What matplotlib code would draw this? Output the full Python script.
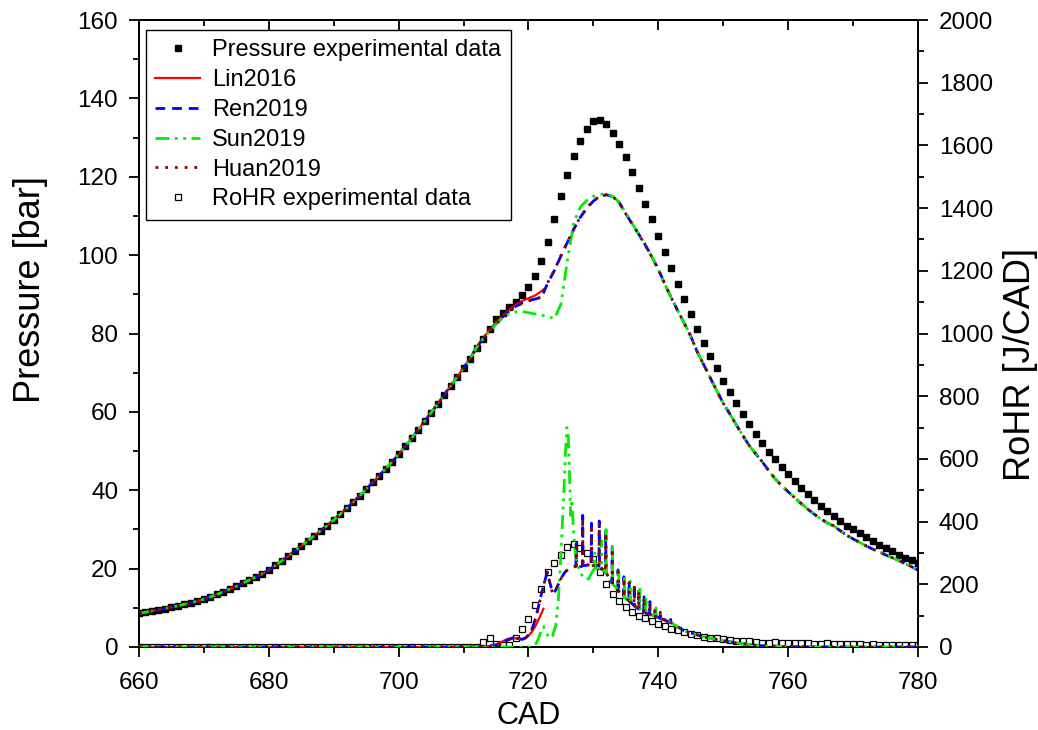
import numpy as np
import matplotlib.pyplot as plt
from matplotlib.ticker import MultipleLocator

plt.rcParams['font.family'] = ['Liberation Sans', 'DejaVu Sans']

# ---- pressure, experimental (1 CAD steps, 660..780) ----
cad_exp = np.arange(660, 781)
p_exp = [8.6, 8.9, 9.2, 9.5, 9.8, 10.2, 10.5, 10.9, 11.3, 11.7,
         12.2, 12.8, 13.4, 14.1, 14.8, 15.5, 16.3, 17.1, 17.9, 18.7,
         19.6, 20.8, 22.0, 23.2, 24.5, 25.8, 27.1, 28.4, 29.7, 31.0,
         32.4, 33.9, 35.4, 37.0, 38.6, 40.3, 42.0, 43.7, 45.5, 47.3,
         49.2, 51.2, 53.3, 55.4, 57.6, 59.8, 62.0, 64.3, 66.6, 68.9,
         71.2, 73.6, 76.3, 78.5, 81.2, 83.7, 85.3, 86.7, 88.0, 89.7,
         91.8, 94.7, 98.4, 103.3, 109.2, 115.1, 120.4, 125.2, 129.2, 132.3,
         134.3, 134.5, 133.4, 131.2, 128.3, 125.0, 121.3, 117.2, 113.1, 109.1,
         104.9, 100.7, 96.6, 92.7, 88.7, 84.9, 81.2, 77.7, 74.3, 71.1,
         68.0, 65.0, 62.2, 59.5, 56.9, 54.4, 52.1, 49.8, 47.9, 45.9,
         44.1, 42.3, 40.6, 39.0, 37.5, 36.0, 34.7, 33.4, 32.2, 31.0,
         30.0, 29.0, 28.0, 27.0, 26.1, 25.3, 24.4, 23.6, 22.7, 22.2,
         21.5]

# ---- RoHR, experimental (1 CAD steps, 660..780) ----
rohr_exp = [0] * 53 + [
    15, 28, 8, 5, 7, 30, 58, 88, 133, 185,
    240, 268, 295, 320, 330, 315, 300, 281, 238, 200,
    168, 146, 129, 112, 99, 91, 83, 73, 66, 59,
    53, 47, 41, 38, 33, 28, 28, 27, 22, 20,
    20, 19, 16, 14, 14, 17, 13, 12, 12, 12,
    14, 10, 9, 12, 9, 8, 10, 8, 8, 6,
    8, 6, 7, 6, 7, 5, 6, 5]

# ---- pressure, models ----
p_early = p_exp[:52]

cad_lin = np.arange(660, 723).tolist() + [722.5]
p_lin = p_early + [76.6, 78.8, 80.9, 82.8, 84.5, 86.0, 87.3, 88.3, 89.0, 89.7,
                   90.8, 91.5]

cad_mod = np.arange(660, 781)
p_ren = p_early + [
    76.4, 78.6, 80.6, 82.5, 84.2, 85.6, 86.9, 87.8, 88.4, 88.8,
    89.2, 93.0, 96.1, 99.8, 103.3, 106.7, 109.7, 112.0, 113.8, 115.0,
    115.4, 114.9, 113.4, 110.5, 107.9, 105.3, 102.6, 99.6, 96.4, 92.6,
    89.1, 85.8, 82.6, 79.3, 75.3, 72.0, 68.7, 65.4, 62.2, 59.5,
    56.7, 54.0, 51.4, 49.3, 47.3, 45.0, 42.9, 41.2, 39.6, 38.1,
    36.6, 35.2, 33.9, 32.7, 31.7, 30.9, 29.7, 28.5, 27.6, 26.7,
    25.8, 25.0, 24.3, 23.5, 22.8, 22.1, 21.3, 20.5, 19.6]
p_huan = p_early + [
    76.4, 78.6, 80.6, 82.5, 84.2, 85.6, 86.8, 87.7, 88.3, 88.8,
    89.3, 93.1, 96.2, 99.9, 103.4, 106.8, 109.8, 112.1, 113.9, 115.0,
    115.4, 114.9, 113.3, 110.5, 107.9, 105.2, 102.5, 99.5, 96.3, 92.6,
    89.1, 85.8, 82.6, 79.3, 75.3, 72.0, 68.7, 65.4, 62.2, 59.5,
    56.7, 54.0, 51.4, 49.3, 47.3, 45.0, 42.9, 41.2, 39.6, 38.1,
    36.6, 35.2, 33.9, 32.7, 31.7, 30.9, 29.7, 28.5, 27.6, 26.7,
    25.8, 25.0, 24.3, 23.5, 22.8, 22.1, 21.3, 20.5, 19.6]
p_sun = p_early + [
    76.4, 78.6, 80.6, 82.3, 84.0, 85.0, 85.5, 85.6, 85.3, 85.0,
    84.7, 84.3, 83.8, 87.5, 98.7, 108.5, 112.3, 114.0, 115.0, 115.5,
    115.6, 115.0, 113.5, 110.6, 108.0, 105.3, 102.6, 99.6, 96.4, 92.6,
    89.1, 85.8, 82.6, 79.3, 75.3, 72.0, 68.7, 65.4, 62.2, 59.5,
    56.7, 54.0, 51.4, 49.3, 47.3, 45.0, 42.9, 41.2, 39.6, 38.1,
    36.6, 35.2, 33.9, 32.7, 31.7, 30.9, 29.7, 28.5, 27.6, 26.7,
    25.8, 25.0, 24.3, 23.5, 22.8, 22.1, 21.3, 20.5, 19.6]

# ---- RoHR, models ----
cad_r_lin = [660, 713, 714, 715, 716, 716.8, 717.5, 718.2, 719, 719.5,
             720, 720.5, 721, 721.5, 722, 722.3]
r_lin = [0, 0, 3, 8, 18, 26, 28, 27, 26, 29,
         36, 48, 64, 85, 108, 122]

cad_r_ren = [660, 712, 714, 715, 716, 717, 717.8, 718.4, 719, 719.5,
             720, 720.5, 721, 721.5, 722, 722.5, 722.9, 723.3, 723.7, 724.1,
             724.6, 725.1, 725.6, 726.1, 726.6, 727.0, 727.3, 727.35, 727.4, 727.8,
             728.3, 728.35, 728.4, 728.8, 729.2, 729.65, 729.7, 729.75, 730.3, 730.85,
             730.9, 730.95, 731.4, 731.85, 731.9, 731.95, 732.5, 732.85, 732.9, 732.95,
             733.6, 733.75, 733.8, 733.85, 734.6, 734.65, 734.7, 734.75, 735.45, 735.5,
             735.55, 736.25, 736.3, 736.35, 736.95, 737.0, 737.05, 737.75, 737.8, 737.85,
             738.65, 738.7, 738.75, 739.45, 739.5, 739.55, 740.25, 740.3, 740.35, 741.05,
             741.1, 741.15, 741.85, 741.9, 741.95, 742.8, 743.8, 744.8, 746.9, 750,
             753, 756, 760, 765, 780]
r_ren = [0, 0, 2, 6, 14, 24, 31, 27, 24, 28,
         38, 55, 85, 125, 170, 210, 240, 205, 172, 178,
         200, 222, 238, 248, 253, 256, 258, 330, 258, 255,
         258, 420, 260, 260, 262, 258, 395, 258, 262, 255,
         402, 255, 248, 238, 373, 236, 219, 205, 320, 200,
         187, 180, 246, 178, 166, 162, 224, 160, 148, 208,
         146, 133, 203, 131, 121, 182, 119, 111, 160, 110,
         104, 145, 103, 98, 123, 97, 92, 113, 91, 85,
         97, 84, 78, 88, 77, 67, 54, 46, 33, 20,
         10, 4, 1, 0, 0]

cad_r_huan = cad_r_ren
r_huan = [0, 0, 2, 6, 14, 24, 31, 27, 24, 28,
          38, 55, 85, 125, 170, 210, 238, 203, 172, 178,
          200, 222, 238, 248, 253, 256, 258, 320, 258, 255,
          258, 410, 260, 260, 262, 258, 390, 258, 262, 255,
          395, 255, 248, 238, 365, 236, 219, 205, 315, 200,
          187, 180, 240, 178, 166, 162, 220, 160, 148, 205,
          146, 133, 200, 131, 121, 180, 119, 111, 158, 110,
          104, 143, 103, 98, 121, 97, 92, 111, 91, 85,
          95, 84, 78, 86, 77, 67, 54, 46, 33, 20,
          10, 4, 1, 0, 0]

cad_r_sun = [660, 720.5, 721, 721.5, 722, 722.3, 722.7, 723.0, 723.3, 723.7,
             724.2, 724.6, 725.0, 725.4, 725.7, 725.9, 726.1, 726.3, 726.5, 726.7,
             726.9, 727.2, 727.6, 728.0, 728.5, 729.0, 729.3, 729.7, 730.15, 730.2,
             730.25, 730.7, 731.15, 731.2, 731.25, 731.9, 731.95, 732.0, 732.4, 732.9,
             732.95, 733.0, 733.6, 733.85, 733.9, 733.95, 734.6, 734.75, 734.8, 734.85,
             735.6, 735.65, 735.7, 736.6, 737.1, 737.15, 737.2, 738.0, 738.1, 738.15,
             739.0, 739.6, 739.65, 739.7, 740.7, 741.7, 742.8, 743.8, 744.8, 746.9,
             750, 753, 756, 760, 765, 780]
r_sun = [0, 0, 5, 25, 55, 65, 50, 35, 28, 35,
         70, 150, 300, 470, 620, 700, 690, 560, 420, 470,
         380, 300, 260, 235, 222, 215, 219, 235, 250, 300,
         250, 252, 250, 340, 248, 238, 375, 236, 222, 205,
         330, 200, 187, 176, 250, 174, 164, 158, 230, 156,
         146, 210, 145, 129, 121, 185, 119, 111, 160, 109,
         103, 97, 125, 96, 88, 81, 67, 54, 46, 33,
         20, 10, 4, 1, 0, 0]

fig = plt.figure(figsize=(10.38, 7.3), dpi=100)
ax = fig.add_axes([0.1339, 0.1137, 0.7505, 0.8589])
ax2 = ax.twinx()

# pressure
ax.plot(cad_exp, p_exp, 's', color='black', markersize=4.5, zorder=2,
        label='Pressure experimental data')
ax.plot(cad_lin, p_lin, '-', color='red', lw=1.6, label='Lin2016', zorder=3)
ax.plot(cad_mod, p_ren, color='blue', lw=2, dashes=(3.5, 2.5), label='Ren2019', zorder=4)
ax.plot(cad_mod, p_sun, color='#00ee00', lw=2, dashes=(5, 2, 1, 2, 1, 2),
        label='Sun2019', zorder=5)
ax.plot(cad_mod, p_huan, color='#8b0000', lw=2, dashes=(1, 2.5), label='Huan2019', zorder=6)

# RoHR
ax2.plot(cad_exp, rohr_exp, 's', mfc='white', mec='black', mew=0.9,
         markersize=5, zorder=2, label='RoHR experimental data')
ax2.plot(cad_r_lin, r_lin, '-', color='red', lw=1.6, zorder=3)
ax2.plot(cad_r_ren, r_ren, color='blue', lw=2, dashes=(3.5, 2.5), zorder=4)
ax2.plot(cad_r_sun, r_sun, color='#00ee00', lw=2, dashes=(5, 2, 1, 2, 1, 2), zorder=5)
ax2.plot(cad_r_huan, r_huan, color='#8b0000', lw=2, dashes=(1, 2.5), zorder=6)

ax.set_xlim(660, 780)
ax.set_ylim(0, 160)
ax2.set_ylim(0, 2000)

ax.xaxis.set_major_locator(MultipleLocator(20))
ax.xaxis.set_minor_locator(MultipleLocator(10))
ax.yaxis.set_major_locator(MultipleLocator(20))
ax.yaxis.set_minor_locator(MultipleLocator(10))
ax2.yaxis.set_major_locator(MultipleLocator(200))
ax2.yaxis.set_minor_locator(MultipleLocator(100))

for a in (ax, ax2):
    a.tick_params(which='major', direction='out', length=7, width=1.3,
                  labelsize=17.5, pad=8)
    a.tick_params(which='minor', direction='out', length=4, width=1.3)
    for s in a.spines.values():
        s.set_linewidth(1.3)
ax.tick_params(axis='x', pad=11)

top = ax.secondary_xaxis('top')
top.xaxis.set_major_locator(MultipleLocator(20))
top.xaxis.set_minor_locator(MultipleLocator(10))
top.tick_params(which='major', direction='in', length=7, width=1.3, labeltop=False)
top.tick_params(which='minor', direction='in', length=4, width=1.3)
top.spines['top'].set_linewidth(1.3)

ax.set_xlabel('CAD', fontsize=22)
ax.xaxis.set_label_coords(0.5, -0.086)
ax.set_ylabel('Pressure [bar]', fontsize=26)
ax.yaxis.set_label_coords(-0.117, 0.57)
ax2.set_ylabel('RoHR [J/CAD]', fontsize=26)
ax2.yaxis.set_label_coords(1.109, 0.45)

h1, l1 = ax.get_legend_handles_labels()
h2, l2 = ax2.get_legend_handles_labels()
leg = ax2.legend(h1 + h2, l1 + l2, loc='upper left', bbox_to_anchor=(0.009, 0.984),
                 borderaxespad=0, fontsize=17, fancybox=False, framealpha=1,
                 edgecolor='black', handlelength=1.9, labelspacing=0.33,
                 borderpad=0.4, handletextpad=0.5)
leg.get_frame().set_linewidth(1.0)

fig.savefig('out.png', dpi=100)
